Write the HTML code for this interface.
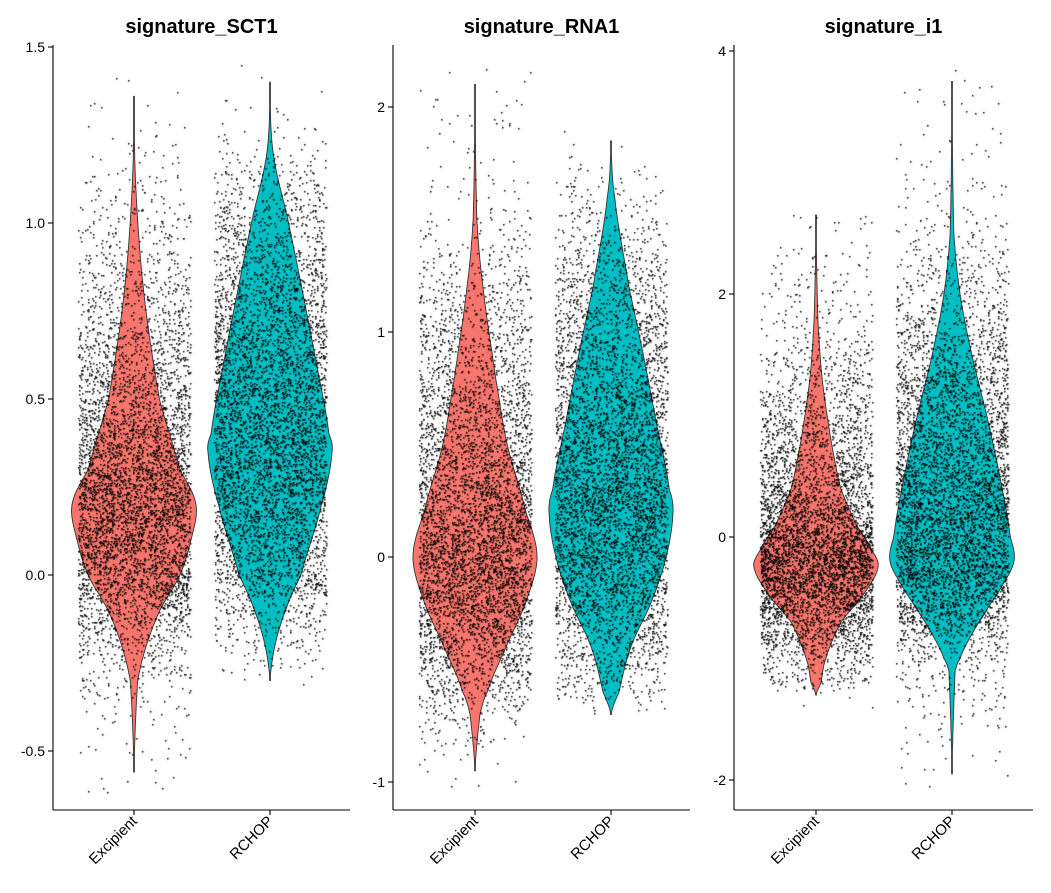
<!DOCTYPE html>
<html><head><meta charset="utf-8">
<style>
html,body{margin:0;padding:0;background:#fff;}
#wrap{position:relative;width:1051px;height:893px;overflow:hidden;}
svg,canvas{position:absolute;left:0;top:0;}
text{font-family:"Liberation Sans",Arial,sans-serif;}
</style></head>
<body>
<div id="wrap">
<svg id="bg" width="1051" height="893"></svg>
<canvas id="pts" width="1051" height="893"></canvas>
<svg id="fg" width="1051" height="893"></svg>
</div>
<script>
// ---- data ----
const categories = ["Excipient","RCHOP"];
const titles = ["signature_SCT1","signature_RNA1","signature_i1"];
const ticks1 = [-0.5,0,0.5,1.0,1.5];
const tickLabels1 = ["-0.5","0.0","0.5","1.0","1.5"];
const ticks2 = [-1,0,1,2];
const tickLabels2 = ["-1","0","1","2"];
const ticks3 = [-2,0,2,4];
const tickLabels3 = ["-2","0","2","4"];
// violin profiles: [value, relative half-width 0..1]
const sctExcipient = [[-0.56,0],[-0.3,0.06],[-0.2,0.2],[-0.1,0.42],[0.0,0.74],[0.1,0.92],[0.2,1],[0.3,0.74],[0.5,0.41],[0.8,0.16],[1.1,0.03],[1.36,0]];
const sctRchop = [[-0.3,0],[-0.2,0.08],[-0.1,0.25],[0.0,0.5],[0.2,0.83],[0.35,1],[0.4,0.95],[0.6,0.75],[0.8,0.53],[1.0,0.3],[1.2,0.05],[1.4,0]];
const rnaExcipient = [[-0.95,0],[-0.7,0.08],[-0.6,0.2],[-0.4,0.5],[-0.2,0.82],[0.0,1],[0.2,0.82],[0.5,0.52],[0.8,0.33],[1.2,0.13],[1.5,0.03],[2.1,0]];
const rnaRchop = [[-0.7,0],[-0.6,0.13],[-0.4,0.32],[-0.2,0.65],[0.0,0.89],[0.2,1],[0.3,0.94],[0.6,0.73],[0.9,0.52],[1.2,0.29],[1.6,0.06],[1.85,0]];
const i1Excipient = [[-1.3,0],[-1.2,0.08],[-1.0,0.16],[-0.7,0.4],[-0.5,0.73],[-0.25,1],[-0.1,0.89],[0.1,0.65],[0.4,0.4],[0.8,0.24],[1.3,0.1],[1.8,0.03],[2.65,0]];
const i1Rchop = [[-1.95,0],[-1.1,0.05],[-1.0,0.13],[-0.8,0.32],[-0.6,0.56],[-0.4,0.81],[-0.2,1],[0.0,0.94],[0.5,0.77],[1.0,0.56],[1.5,0.32],[2.0,0.13],[2.5,0.03],[3.75,0]];
const violinData = [[sctExcipient,sctRchop],[rnaExcipient,rnaRchop],[i1Excipient,i1Rchop]];
const colors = ["#F8766D","#00BFC4"];

// ---- layout ----
const panels = [
  {ax:53, right:350, tv:ticks1, tl:tickLabels1, v0:0, p0:575, v1:0.5, p1:399, cx:[134,270], title:titles[0]},
  {ax:393,right:690, tv:ticks2, tl:tickLabels2, v0:0, p0:557, v1:1, p1:332, cx:[475,611], title:titles[1]},
  {ax:734,right:1033,tv:ticks3, tl:tickLabels3, v0:0, p0:537, v1:2, p1:294, cx:[816,952], title:titles[2]}
];
const NS="http://www.w3.org/2000/svg";
const bg=document.getElementById('bg'), fg=document.getElementById('fg');
const ctx=document.getElementById('pts').getContext('2d');
function mk(p,tag,attrs){const e=document.createElementNS(NS,tag);for(const k in attrs)e.setAttribute(k,attrs[k]);p.appendChild(e);return e;}
let seed=12345;function rnd(){seed=(seed*1664525+1013904223)>>>0;return seed/4294967296;}
function interp(prof,v){
  const n=prof.length;
  for(let i=0;i<n-1;i++){const a=prof[i],b=prof[i+1];
    if(v>=a[0]&&v<=b[0]){
      const t=(v-a[0])/(b[0]-a[0]);
      const p0=i>0?prof[i-1][1]:a[1], p3=i<n-2?prof[i+2][1]:b[1];
      const p1=a[1],p2=b[1];
      const t2=t*t,t3=t2*t;
      const r=0.5*((2*p1)+(-p0+p2)*t+(2*p0-5*p1+4*p2-p3)*t2+(-p0+3*p1-3*p2+p3)*t3);
      return Math.max(0,r);
    }}
  return 0;}
const HALF=62;

panels.forEach((P,pi)=>{
  const y=v=>P.p0+(v-P.v0)*(P.p1-P.p0)/(P.v1-P.v0);
  violinData[pi].forEach((prof,ci)=>{
    const cx=P.cx[ci];
    const left=[],right=[];
    const lo=prof[0][0],hi=prof[prof.length-1][0];
    for(let k=0;k<=240;k++){const v=lo+(hi-lo)*k/240;const w=Math.max(0.4,interp(prof,v)*HALF);right.push((cx+w).toFixed(1)+","+y(v).toFixed(1));left.unshift((cx-w).toFixed(1)+","+y(v).toFixed(1));}
    const path=mk(bg,'polygon',{points:right.concat(left).join(' '),fill:colors[ci],stroke:'#333',"stroke-width":0.9});
    
    
    // jitter points (visual texture sampled from the violin profile)
    ctx.fillStyle='#000';
    let n=0;const N=5200;
    const range=hi-lo;
    while(n<N){
      const v=lo-0.03*range+rnd()*range*1.06;
      const d=Math.pow(interp(prof,v),0.85)+0.008;
      if(rnd()<d){const x=Math.round(cx+(rnd()*2-1)*56);ctx.fillRect(x,Math.round(y(v)),1.5,1.5);n++;}
    }
  });
  const ax=mk(fg,'line',{x1:P.ax,y1:45,x2:P.ax,y2:810,stroke:'#000',"stroke-width":1.1});
  
  const xa=mk(fg,'line',{x1:P.ax,y1:810,x2:P.right,y2:810,stroke:'#000',"stroke-width":1.1});
  
  P.tv.forEach((t,i)=>{
    const yy=y(t);
    const tk=mk(fg,'line',{x1:P.ax-5,y1:yy,x2:P.ax,y2:yy,stroke:'#000',"stroke-width":1.1});
    
    const tx=mk(fg,'text',{x:P.ax-8,y:yy+5,"text-anchor":"end","font-size":14,fill:'#000'});
    tx.textContent=P.tl[i];
    
  });
  P.cx.forEach((cx,ci)=>{
    const tk=mk(fg,'line',{x1:cx,y1:810,x2:cx,y2:815,stroke:'#000',"stroke-width":1.1});
    
    const tx=mk(fg,'text',{x:cx+4,y:822,"text-anchor":"end","font-size":15,fill:'#000',transform:`rotate(-45 ${cx+4} 822)`});
    tx.textContent=categories[ci];
    
  });
  const tt=mk(fg,'text',{x:(P.ax+P.right)/2,y:33,"text-anchor":"middle","font-size":20,"font-weight":"bold",fill:'#000'});
  tt.textContent=P.title;
  
});
</script>
</body></html>
